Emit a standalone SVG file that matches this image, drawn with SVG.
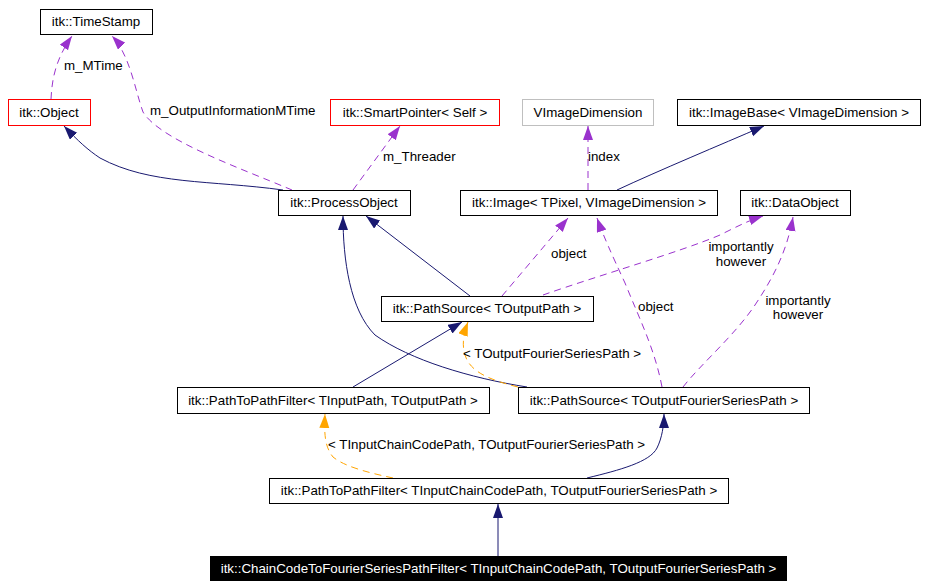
<svg xmlns="http://www.w3.org/2000/svg" width="927" height="588" viewBox="0 0 927 588">
<style>
text{font-family:"Liberation Sans",Arial,sans-serif;font-size:13.33px;fill:#000}
.n{text-anchor:middle}
.box{fill:#fff;stroke:#000;stroke-width:1}
.red{fill:#fff;stroke:#ff0000;stroke-width:1}
.gray{fill:#fff;stroke:#bfbfbf;stroke-width:1}
.inh{fill:none;stroke:#191970;stroke-width:1;marker-end:url(#an)}
.use{fill:none;stroke:#9a32cd;stroke-width:1;stroke-dasharray:7,5;marker-end:url(#ap)}
.tpl{fill:none;stroke:#ffa500;stroke-width:1;stroke-dasharray:7,5;marker-end:url(#ao)}
</style>
<defs>
<marker id="an" markerUnits="userSpaceOnUse" markerWidth="15" markerHeight="11" refX="14" refY="5" orient="auto"><path d="M0,0 L14,5 L0,10 z" fill="#191970" stroke="none"/></marker>
<marker id="ap" markerUnits="userSpaceOnUse" markerWidth="15" markerHeight="11" refX="14" refY="5" orient="auto"><path d="M0,0 L14,5 L0,10 z" fill="#9a32cd" stroke="none"/></marker>
<marker id="ao" markerUnits="userSpaceOnUse" markerWidth="15" markerHeight="11" refX="14" refY="5" orient="auto"><path d="M0,0 L14,5 L0,10 z" fill="#ffa500" stroke="none"/></marker>
</defs>
<rect width="927" height="588" fill="#fff"/>
<g id="connectors">
<path class="use" d="M51,99 C52,80 55,60 72,36"/>
<text x="64" y="70">m_MTime</text>
<path class="use" d="M292,190 C240,168 160,140 143,112 C135,90 130,55 112,36"/>
<text x="150" y="115">m_OutputInformationMTime</text>
<path class="inh" d="M283,190 C210,180 150,185 100,158 C88,150 78,141 64,126"/>
<path class="use" d="M353,190 L400,126"/>
<text x="383" y="161">m_Threader</text>
<path class="use" d="M588,190 L588,126"/>
<text x="588" y="161">index</text>
<path class="inh" d="M617,190 C660,170 720,145 764,126"/>
<path class="inh" d="M470,296 L366,216"/>
<path class="inh" d="M527,387 C470,378 410,360 375,335 C350,310 343,260 343,216"/>
<path class="inh" d="M353,387 L462,322"/>
<path class="tpl" d="M518,387 C490,380 470,372 465,355 C462,345 463,335 468,322"/>
<text x="463" y="358">&lt; TOutputFourierSeriesPath &gt;</text>
<path class="use" d="M502,296 L568,218"/>
<text x="551" y="258">object</text>
<path class="use" d="M543,295 C600,275 680,252 720,235 C740,225 750,220 763,216"/>
<text class="n" x="741" y="251">importantly</text>
<text class="n" x="741" y="266">however</text>
<path class="use" d="M662,387 C655,350 640,320 625,283 C612,255 603,235 597,218"/>
<text x="638" y="311">object</text>
<path class="use" d="M683,387 C700,365 735,335 755,305 C775,275 787,250 793,217"/>
<text class="n" x="798" y="305">importantly</text>
<text class="n" x="798" y="319">however</text>
<path class="tpl" d="M393,478 C370,473 345,467 333,457 C325,447 324,435 325,414"/>
<text x="328" y="449">&lt; TInputChainCodePath, TOutputFourierSeriesPath &gt;</text>
<path class="inh" d="M587,478 C620,470 650,462 657,448 C662,438 664,425 664,414"/>
<path class="inh" d="M498,556 L498,504"/>
</g>
<g id="timestamp"><rect class="box" x="40.5" y="9.5" width="112" height="25"/><text class="n" x="96" y="26">itk::TimeStamp</text></g>
<g id="object"><rect class="red" x="8.5" y="99.5" width="82" height="26"/><text class="n" x="49" y="117">itk::Object</text></g>
<g id="smartpointer"><rect class="red" x="330.5" y="99.5" width="169" height="26"/><text class="n" x="415" y="117">itk::SmartPointer&lt; Self &gt;</text></g>
<g id="vimagedimension"><rect class="gray" x="522.5" y="99.5" width="131" height="26"/><text class="n" x="588" y="117">VImageDimension</text></g>
<g id="imagebase"><rect class="box" x="677.5" y="99.5" width="243" height="26"/><text class="n" x="799" y="117">itk::ImageBase&lt; VImageDimension &gt;</text></g>
<g id="processobject"><rect class="box" x="278.5" y="190.5" width="132" height="25"/><text class="n" x="344" y="207">itk::ProcessObject</text></g>
<g id="image"><rect class="box" x="460.5" y="190.5" width="257" height="25"/><text class="n" x="589" y="207">itk::Image&lt; TPixel, VImageDimension &gt;</text></g>
<g id="dataobject"><rect class="box" x="740.5" y="190.5" width="110" height="25"/><text class="n" x="795" y="207">itk::DataObject</text></g>
<g id="pathsource"><rect class="box" x="381.5" y="296.5" width="212" height="25"/><text class="n" x="487" y="313">itk::PathSource&lt; TOutputPath &gt;</text></g>
<g id="pathtopathfilter"><rect class="box" x="177.5" y="387.5" width="312" height="26"/><text class="n" x="333" y="405">itk::PathToPathFilter&lt; TInputPath, TOutputPath &gt;</text></g>
<g id="pathsource_fourier"><rect class="box" x="518.5" y="387.5" width="291" height="26"/><text class="n" x="664" y="405">itk::PathSource&lt; TOutputFourierSeriesPath &gt;</text></g>
<g id="pathtopathfilter_chain"><rect class="box" x="269.5" y="478.5" width="459" height="25"/><text class="n" x="499" y="495">itk::PathToPathFilter&lt; TInputChainCodePath, TOutputFourierSeriesPath &gt;</text></g>
<g id="chaincode"><rect x="210" y="556" width="577" height="25" fill="#000"/><text class="n" x="498.5" y="573" style="fill:#fff">itk::ChainCodeToFourierSeriesPathFilter&lt; TInputChainCodePath, TOutputFourierSeriesPath &gt;</text></g>
</svg>
